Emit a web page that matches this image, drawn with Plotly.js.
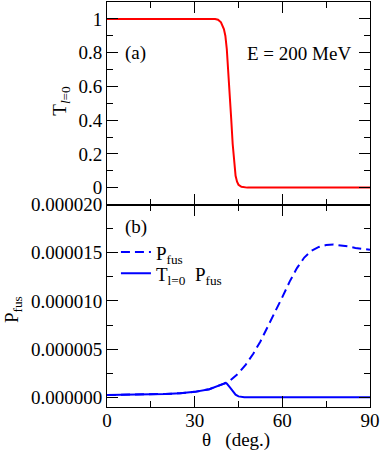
<!DOCTYPE html>
<html>
<head>
<meta charset="utf-8">
<script src="https://cdn.plot.ly/plotly-3.0.1.min.js"></script>
<style>
  html, body { margin: 0; padding: 0; background: #fff; }
  #chart { width: 382px; height: 452px; }
</style>
</head>
<body>
<div id="chart"></div>
<script>
// panel (a): transmission T_l=0 vs theta
var thetaT = [0, 5, 10, 15, 20, 25, 30, 35, 37, 38, 39, 40, 40.5, 41, 41.5, 42, 42.5, 43, 43.5, 44, 44.5, 45, 46, 47, 48, 50, 60, 70, 80, 90];
var transT = [1, 1, 1, 1, 1, 1, 1, 1, 0.999, 0.995, 0.98, 0.94, 0.9, 0.82, 0.7, 0.55, 0.41, 0.26, 0.14, 0.07, 0.035, 0.017, 0.005, 0.001, 0, 0, 0, 0, 0, 0];

// panel (b): fusion probability
var thetaP = [0, 5, 10, 15, 20, 25, 30, 35, 38, 40, 41, 42, 43, 44, 45, 47.5, 50, 52.5, 55, 57.5, 60, 62.5, 65, 67.5, 70, 72.5, 75, 77.5, 80, 82.5, 85, 87.5, 90];
var pFus = [2.4e-7, 2.5e-7, 2.7e-7, 3.1e-7, 3.5e-7, 4.3e-7, 5.7e-7, 8.5e-7, 1.15e-6, 1.4e-6, 1.52e-6, 1.7e-6, 1.95e-6, 2.2e-6, 2.5e-6, 3.4e-6, 4.5e-6, 5.8e-6, 7.3e-6, 8.9e-6, 1.04e-5, 1.2e-5, 1.34e-5, 1.45e-5, 1.52e-5, 1.56e-5, 1.58e-5, 1.585e-5, 1.578e-5, 1.565e-5, 1.55e-5, 1.54e-5, 1.53e-5];

var thetaTP = [0, 5, 10, 15, 20, 25, 30, 35, 38, 40, 40.5, 41, 42, 43, 44, 45, 46, 47, 48, 60, 90];
var tpFus = [2.4e-7, 2.5e-7, 2.7e-7, 3.1e-7, 3.5e-7, 4.3e-7, 5.7e-7, 8.5e-7, 1.15e-6, 1.42e-6, 1.5e-6, 1.42e-6, 1.05e-6, 6e-7, 2.8e-7, 1e-7, 3e-8, 1e-8, 0, 0, 0];

var FONT = 'Liberation Serif';
var fs = 19;

var traces = [
    {
        x: thetaT, y: transT, xaxis: 'x2', yaxis: 'y2',
        type: 'scatter', mode: 'lines', showlegend: false,
        line: { color: '#ff0000', width: 2 }
    },
    {
        x: thetaP, y: pFus, xaxis: 'x', yaxis: 'y',
        type: 'scatter', mode: 'lines', name: 'P<sub>fus</sub>', legend: 'legend',
        line: { color: '#0000ff', width: 2, dash: '9px,5px' }
    },
    {
        x: thetaTP, y: tpFus, xaxis: 'x', yaxis: 'y',
        type: 'scatter', mode: 'lines', name: 'T<sub>l=0</sub>&nbsp;&nbsp;P<sub>fus</sub>', legend: 'legend2',
        line: { color: '#0000ff', width: 2 }
    }
];

// gemeinsame Achsen-Einstellungen (tickfont jeweils neu anlegen)
function axisBase() {
    return {
        showline: true, linecolor: '#000', linewidth: 1,
        mirror: 'ticks', ticks: 'inside', ticklen: 11, tickwidth: 1, tickcolor: '#000',
        showgrid: false, zeroline: false,
        tickfont: { family: FONT, size: fs, color: '#000' }
    };
}

function legendBase() {
    return {
        xanchor: 'left', yanchor: 'top',
        bgcolor: 'rgba(0,0,0,0)', borderwidth: 0,
        font: { family: FONT, size: fs, color: '#000' }
    };
}

var layout = {
    width: 382, height: 452,
    margin: { l: 107, r: 12, t: 2, b: 45 },
    paper_bgcolor: '#fff', plot_bgcolor: '#fff',
    font: { family: FONT, size: fs, color: '#000' },
    xaxis: Object.assign(axisBase(), {
        anchor: 'y', range: [0, 90], dtick: 30, tick0: 0, ticklabelstandoff: -4,
        minor: { dtick: 15, ticks: 'inside', ticklen: 6, tickcolor: '#000' }
    }),
    xaxis2: Object.assign(axisBase(), {
        anchor: 'y2', matches: 'x', range: [0, 90], dtick: 30, tick0: 0,
        showticklabels: false,
        minor: { dtick: 15, ticks: 'inside', ticklen: 6, tickcolor: '#000' }
    }),
    yaxis: Object.assign(axisBase(), {
        domain: [0, 0.5], range: [-1e-6, 2.00001e-5],
        tickvals: [0, 5e-6, 1e-5, 1.5e-5, 2e-5], tickformat: '.6f',
        minor: { tickvals: [2.5e-6, 7.5e-6, 1.25e-5, 1.75e-5], ticks: 'inside', ticklen: 6, tickcolor: '#000' }
    }),
    yaxis2: Object.assign(axisBase(), {
        domain: [0.5, 1], range: [-0.1, 1.1], dtick: 0.2, tick0: 0,
        minor: { dtick: 0.1, ticks: 'inside', ticklen: 6, tickcolor: '#000' }
    }),
    legend: Object.assign(legendBase(), { x: 0.034, y: 0.429 }),
    legend2: Object.assign(legendBase(), { x: 0.034, y: 0.377 }),
    annotations: [
        { text: '(a)', xref: 'paper', yref: 'paper', x: 0.06, y: 0.873, xanchor: 'left', yanchor: 'middle', showarrow: false, font: { size: fs } },
        { text: 'E = 200 MeV', xref: 'paper', yref: 'paper', x: 0.935, y: 0.873, xanchor: 'right', yanchor: 'middle', showarrow: false, font: { size: fs } },
        { text: '(b)', xref: 'paper', yref: 'paper', x: 0.06, y: 0.445, xanchor: 'left', yanchor: 'middle', showarrow: false, font: { size: fs } },
        { text: 'T<sub><i>l</i>=0</sub>', xref: 'paper', yref: 'paper', x: -0.173, y: 0.755, xanchor: 'center', yanchor: 'middle', textangle: -90, showarrow: false, font: { size: fs } },
        { text: 'P<sub>fus</sub>', xref: 'paper', yref: 'paper', x: -0.36, y: 0.24, xanchor: 'center', yanchor: 'middle', textangle: -90, showarrow: false, font: { size: fs } },
        { text: 'θ&nbsp;&nbsp;&nbsp;(deg.)', xref: 'paper', yref: 'paper', x: 0.492, y: -0.082, xanchor: 'center', yanchor: 'middle', showarrow: false, font: { size: fs } }
    ]
};

Plotly.newPlot('chart', traces, layout, { displayModeBar: false, staticPlot: true });
</script>
</body>
</html>
